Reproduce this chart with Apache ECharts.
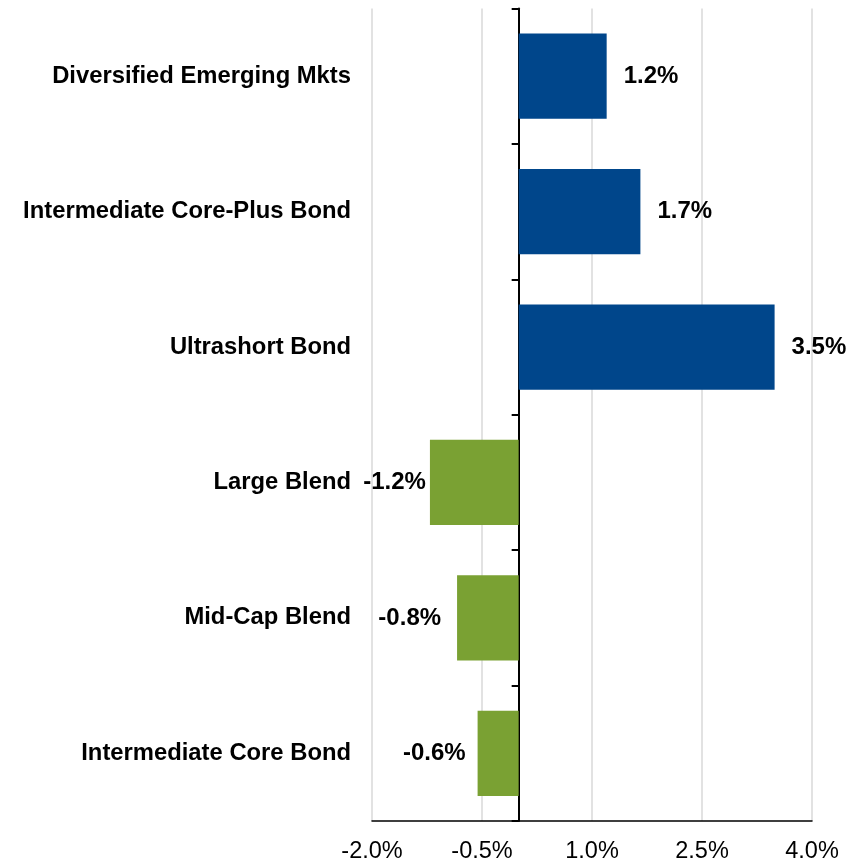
<!DOCTYPE html>
<html>
<head>
<meta charset="utf-8">
<script src="https://cdn.jsdelivr.net/npm/echarts@6/dist/echarts.min.js"></script>
<style>
html,body{margin:0;padding:0;background:#fff;}
#chart{width:860px;height:864px;}
</style>
</head>
<body>
<div id="chart"></div>
<script>
const categories = ["Diversified Emerging Mkts","Intermediate Core-Plus Bond","Ultrashort Bond","Large Blend","Mid-Cap Blend","Intermediate Core Bond"];
const values = [1.2, 1.66, 3.49, -1.21, -0.84, -0.56];
const xTickMin = -2.0;
const xTickMax = 4.0;
const xTickStep = 1.5;

const BLUE = '#00468b';
const GREEN = '#7aa133';
const FONT = '"Liberation Sans", Arial, sans-serif';
const negGap = [4, 16, 12];
let negIdx = 0;

const barData = values.map(function (v) {
  const pos = v >= 0;
  const item = {
    value: v,
    itemStyle: { color: pos ? BLUE : GREEN },
    label: { position: pos ? 'right' : 'left', distance: pos ? 17 : negGap[negIdx] }
  };
  if (!pos) negIdx++;
  return item;
});

const chart = echarts.init(document.getElementById('chart'), null, { renderer: 'canvas' });
chart.setOption({
  animation: false,
  backgroundColor: '#ffffff',
  grid: { left: 372, right: 48, top: 8.5, bottom: 41, containLabel: false },
  xAxis: {
    type: 'value',
    min: xTickMin,
    max: xTickMax,
    interval: xTickStep,
    axisLine: { show: true, onZero: false, lineStyle: { color: '#000', width: 1.5 } },
    axisTick: { show: false },
    splitLine: { show: true, lineStyle: { color: '#d9d9d9', width: 1.5 } },
    axisLabel: {
      color: '#000', fontFamily: FONT, fontSize: 23.5, margin: 19,
      formatter: function (v) { return v.toFixed(1) + '%'; }
    }
  },
  yAxis: [
    {
      type: 'category',
      data: categories,
      inverse: true,
      position: 'left',
      axisLine: { show: false, onZero: false },
      axisTick: { show: false },
      axisLabel: { color: '#000', fontFamily: FONT, fontSize: 23.8, fontWeight: 'bold', margin: 21, padding: [4, 0, 0, 0] },
      splitLine: { show: false }
    },
    {
      type: 'category',
      data: categories,
      inverse: true,
      position: 'left',
      axisLine: { show: true, onZero: true, lineStyle: { color: '#000', width: 2 } },
      axisTick: { show: true, length: 7, lineStyle: { color: '#000', width: 2 } },
      axisLabel: { show: false },
      splitLine: { show: false }
    }
  ],
  series: [{
    type: 'bar',
    yAxisIndex: 0,
    data: barData,
    barCategoryGap: '37%',
    label: {
      show: true,
      color: '#000',
      fontFamily: FONT,
      fontSize: 24,
      fontWeight: 'bold',
      padding: [3, 0, 0, 0],
      formatter: function (p) { return p.value.toFixed(1) + '%'; }
    }
  }]
});
</script>
</body>
</html>
